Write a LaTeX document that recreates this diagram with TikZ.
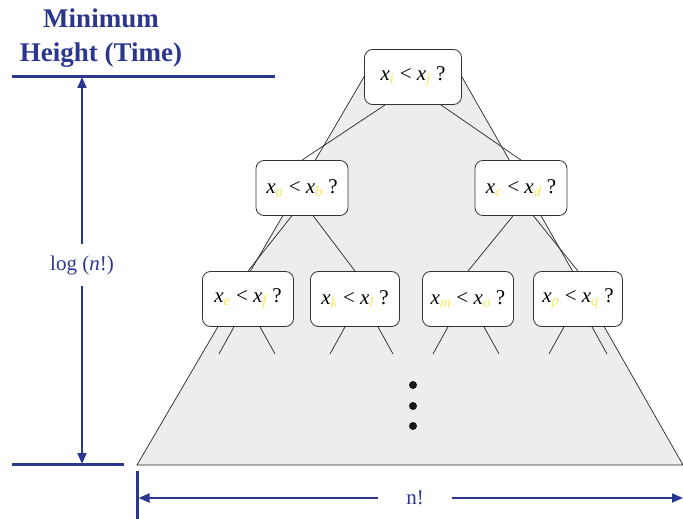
\documentclass[tikz,border=0pt]{standalone}
\usepackage{fontspec}
\setmainfont{Liberation Serif}
\usepackage{tikz}
\usetikzlibrary{arrows.meta,positioning,backgrounds}

\definecolor{titleblue}{RGB}{43,55,142}
\definecolor{treegray}{RGB}{236,237,237}
\definecolor{subyellow}{RGB}{248,232,96}

\newcommand{\nodefont}{\fontsize{21}{25}\selectfont}
\newcommand{\cmpq}[2]{\textit{x}\textsubscript{\textit{\textcolor{subyellow}{#1}}} < \textit{x}\textsubscript{\textit{\textcolor{subyellow}{#2}}} ?}

\begin{document}
\begin{tikzpicture}[x=1pt,y=-1pt,
    cmpbox/.style={draw=black!80, fill=white, rounded corners=8pt, line width=0.8pt,
        minimum width=91pt, minimum height=55pt, font=\nodefont},
    treeline/.style={black!85, line width=0.7pt},
    dimline/.style={titleblue, line width=1.8pt},
    bar/.style={titleblue, line width=3pt},
    tip/.style={-{Triangle[length=11pt,width=9pt]}},
    dimlabel/.style={text=titleblue, inner sep=0pt, font=\nodefont}]

\useasboundingbox (0,0) rectangle (683,519);

% Title
\node[text=titleblue, align=center, font=\fontsize{27}{34}\selectfont\bfseries] (ttl) at (101,38) {Minimum\\Height (Time)};

% Decision nodes
\node[cmpbox, minimum width=97pt] (root) at (413,77) {\cmpq{i}{j}};
\node[cmpbox, minimum width=92pt] (ab) at (302,188) {\cmpq{a}{b}};
\node[cmpbox, minimum width=92pt] (cd) at (521,188) {\cmpq{c}{d}};
\node[cmpbox] (ef) at (248,299) {\cmpq{e}{f}};
\node[cmpbox, minimum width=89pt] (kl) at (355,299) {\cmpq{k}{l}};
\node[cmpbox] (mo) at (468,299) {\cmpq{m}{o}};
\node[cmpbox, minimum width=89pt] (pq) at (578,299) {\cmpq{p}{q}};

% Shaded tree outline
\begin{scope}[on background layer]
\draw[treeline, fill=treegray] (137,465) -- (368,70) -- (458,70) -- (683,465) -- cycle;
\end{scope}

% Edges
\draw[treeline] (root.-135) -- (ab.north);
\draw[treeline] (root.-45) -- (cd.north);
\draw[treeline] (ab.-110) -- (ef.north);
\draw[treeline] (ab.-68) -- (kl.north);
\draw[treeline] (cd.-106) -- (mo.north);
\draw[treeline] (cd.-66) -- (pq.north);

% Stubs below the last level
\foreach \nd/\lft/\rgt in {ef/-14/12, kl/-10/23, mo/-20/16, pq/-14/14} {
    \draw[treeline] (\nd.south) ++(\lft,0) -- ++(-15,27);
    \draw[treeline] (\nd.south) ++(\rgt,0) -- ++(15,27);
}

% Dots
\foreach \y in {385,406,426}
    \fill[black!90] (413,\y) circle (4);

% Height
\draw[bar] (12,77) -- (275,77);
\draw[bar] (12,464) -- (124,464);
\coordinate (htop) at (82,77);
\coordinate (hbot) at (82,464);
\node[dimlabel, minimum height=42pt] (loglab) at (82,265) {log (\textit{n}!)};
\draw[dimline, tip] (loglab) -- (htop);
\draw[dimline, tip] (loglab) -- (hbot);

% Width
\draw[bar] (137,471) -- (137,519);
\coordinate (wleft) at (138.5,498);
\coordinate (wright) at (683,498);
\node[dimlabel, minimum width=74pt] (nlab) at (415,498) {n!};
\draw[dimline, tip] (nlab) -- (wleft);
\draw[dimline, tip] (nlab) -- (wright);

\end{tikzpicture}
\end{document}
